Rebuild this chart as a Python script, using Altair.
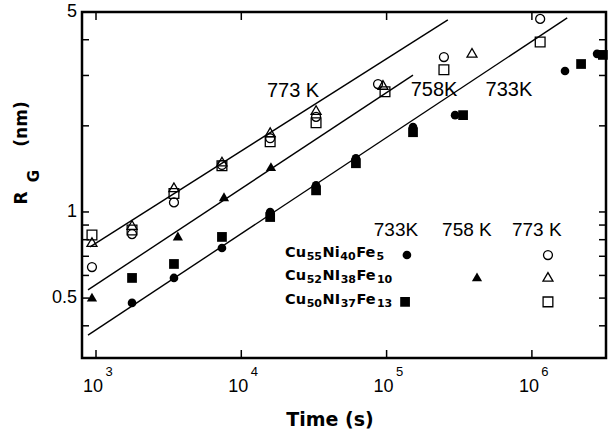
import altair as alt
import pandas as pd

# Annealing time t (s) and mean precipitate radius R_G (nm)
# Cu55Ni40Fe5 at 733 K (filled circles)
t_733_fe5 = [1770, 3440, 7360, 15800, 32700, 61500, 152000, 296000, 1690000, 2810000]
r_733_fe5 = [0.481, 0.588, 0.748, 1.00, 1.24, 1.54, 1.98, 2.18, 3.11, 3.57]
# Cu50Ni37Fe13 at 733 K (filled squares)
t_733_fe13 = [1770, 3440, 7360, 15800, 32700, 61500, 152000, 336000, 2180000, 3080000]
r_733_fe13 = [0.588, 0.658, 0.818, 0.96, 1.19, 1.48, 1.90, 2.18, 3.29, 3.54]
# Cu52Ni38Fe10 at 758 K (filled triangles)
t_758_fe10 = [938, 3660, 7600, 16000]
r_758_fe10 = [0.504, 0.824, 1.13, 1.44]
# 773 K series (open symbols)
t_773_fe5 = [938, 1770, 3440, 7360, 15800, 32700, 87300, 248000, 1140000]
r_773_fe5 = [0.642, 0.837, 1.08, 1.46, 1.81, 2.15, 2.80, 3.48, 4.73]
t_773_fe10 = [938, 1770, 3440, 7360, 15800, 32700, 94400, 387000]
r_773_fe10 = [0.785, 0.90, 1.22, 1.50, 1.90, 2.27, 2.78, 3.60]
t_773_fe13 = [938, 1770, 3440, 7360, 15800, 32700, 97500, 248000, 1140000]
r_773_fe13 = [0.831, 0.865, 1.16, 1.45, 1.76, 2.05, 2.63, 3.14, 3.93]

# t^(1/3) coarsening lines, one per temperature
fit_names = ["773 K", "758 K", "733 K"]
fit_t = [[910, 264000], [881, 152000], [881, 1750000]]
fit_r = [[0.755, 4.69], [0.534, 3.01], [0.371, 4.77]]

# Temperature labels beside the lines
line_label_text = ["773 K", "758K", "733K"]
line_label_t = [22700, 212000, 695000]
line_label_r = [2.65, 2.67, 2.67]

# Key: column headings, alloy names (element, subscript) and sample symbols
key_head_text = ["733K", "758 K", "773 K"]
key_head_t = [116000, 357000, 1080000]
key_head_r = [0.865, 0.865, 0.865]
key_alloys = [
    [("Cu", "55"), ("Ni", "40"), ("Fe", "5")],
    [("Cu", "52"), ("NI", "38"), ("Fe", "10")],
    [("Cu", "50"), ("NI", "37"), ("Fe", "13")],
]
key_name_t = 20000
key_rows_r = [0.719, 0.597, 0.492]
key_filled_t = [138000, 419000, 134000]
key_filled_r = [0.707, 0.593, 0.485]
key_open_t = [1290000, 1290000, 1290000]
key_open_r = [0.707, 0.593, 0.485]

# Axis ticks
x_major = [1e3, 1e4, 1e5, 1e6]
x_exp = ["3", "4", "5", "6"]
y_ticks = [0.4, 0.5, 0.6, 0.7, 0.8, 0.9, 1, 2, 3, 4]
y_label_v = [0.5, 1, 5]
y_label_s = ["0.5", "1", "5"]

W, H = 524, 346
X = alt.Scale(type="log", domain=[801, 3.236e6])
Y = alt.Scale(type="log", domain=[0.3087, 5.0])
NUM_FONT = "Liberation Sans"
KEY_FONT = "DejaVu Sans"
KEY_MAIN, KEY_SUB = 14.5, 11
# rough DejaVu Sans Bold advance widths (em)
ADV = {"C": .734, "u": .712, "N": .837, "i": .343, "I": .372,
       "F": .683, "e": .678}


def text_width(s, size):
    return sum(ADV.get(ch, .696) for ch in s) * size


def xy(xf="t", yf="r"):
    return dict(x=alt.X(f"{xf}:Q", scale=X, axis=None),
                y=alt.Y(f"{yf}:Q", scale=Y, axis=None))


def points(t, r, shape, filled, size):
    df = pd.DataFrame({"t": t, "r": r})
    return alt.Chart(df).mark_point(
        shape=shape, filled=filled, size=size, color="black",
        strokeWidth=1.3, opacity=1, clip=False
    ).encode(**xy())


# fitted lines
fit_rows = []
for name, ts, rs in zip(fit_names, fit_t, fit_r):
    for tv, rv in zip(ts, rs):
        fit_rows.append({"T": name, "t": tv, "r": rv})
lines = alt.Chart(pd.DataFrame(fit_rows)).mark_line(
    color="black", strokeWidth=1.4
).encode(detail="T:N", **xy())

marks = [
    points(t_733_fe5, r_733_fe5, "circle", True, 75),
    points(t_733_fe13, r_733_fe13, "square", True, 95),
    points(t_758_fe10, r_758_fe10, "triangle-up", True, 105),
    points(t_773_fe5, r_773_fe5, "circle", False, 80),
    points(t_773_fe10, r_773_fe10, "triangle-up", False, 100),
    points(t_773_fe13, r_773_fe13, "square", False, 95),
]

# key symbols
key_syms = [
    points(key_filled_t[:1], key_filled_r[:1], "circle", True, 75),
    points(key_filled_t[1:2], key_filled_r[1:2], "triangle-up", True, 105),
    points(key_filled_t[2:], key_filled_r[2:], "square", True, 95),
    points(key_open_t[:1], key_open_r[:1], "circle", False, 80),
    points(key_open_t[1:2], key_open_r[1:2], "triangle-up", False, 100),
    points(key_open_t[2:], key_open_r[2:], "square", False, 95),
]

line_labels = alt.Chart(pd.DataFrame({
    "t": line_label_t, "r": line_label_r, "s": line_label_text
})).mark_text(font=NUM_FONT, fontSize=20, color="black",
              align="center", baseline="middle").encode(text="s:N", **xy())

key_head = alt.Chart(pd.DataFrame({
    "t": key_head_t, "r": key_head_r, "s": key_head_text
})).mark_text(font=NUM_FONT, fontSize=19, color="black",
              align="center", baseline="middle").encode(text="s:N", **xy())

# alloy names: element symbols with lowered, smaller subscripts
key_text = []
for parts, rv in zip(key_alloys, key_rows_r):
    off = 0.0
    for elem, sub in parts:
        for s, size, dy in ((elem, KEY_MAIN, 0), (sub, KEY_SUB, 4)):
            df = pd.DataFrame({"t": [key_name_t], "r": [rv], "s": [s]})
            key_text.append(alt.Chart(df).mark_text(
                font=KEY_FONT, fontWeight="bold", fontSize=size,
                color="black", align="left", baseline="middle",
                dx=round(off, 1), dy=dy
            ).encode(text="s:N", **xy()))
            off += text_width(s, size) + 0.6

# inward ticks on all four sides
ydf = pd.DataFrame({"v": y_ticks})
xdf = pd.DataFrame({"v": x_major, "e": x_exp})
tick_style = dict(color="black", strokeWidth=1.5)
yl = alt.Chart(ydf).mark_rule(**tick_style).encode(
    y=alt.Y("v:Q", scale=Y, axis=None), x=alt.value(0), x2=alt.value(7))
yr = alt.Chart(ydf).mark_rule(**tick_style).encode(
    y=alt.Y("v:Q", scale=Y, axis=None), x=alt.value(W - 7), x2=alt.value(W))
xb = alt.Chart(xdf).mark_rule(**tick_style).encode(
    x=alt.X("v:Q", scale=X, axis=None), y=alt.value(H - 8), y2=alt.value(H))
xt = alt.Chart(xdf).mark_rule(**tick_style).encode(
    x=alt.X("v:Q", scale=X, axis=None), y=alt.value(0), y2=alt.value(8))

# y tick labels
y_lab = alt.Chart(pd.DataFrame({"v": y_label_v, "s": y_label_s})).mark_text(
    font=NUM_FONT, fontSize=18, color="black", align="right",
    baseline="middle"
).encode(y=alt.Y("v:Q", scale=Y, axis=None), x=alt.value(-5), text="s:N")

# x tick labels: 10 with a raised exponent
x_base = alt.Chart(xdf).mark_text(
    font=NUM_FONT, fontSize=18, color="black", align="center",
    baseline="middle", dx=-3
).encode(x=alt.X("v:Q", scale=X, axis=None), y=alt.value(H + 29),
         text=alt.value("10"))
x_pow = alt.Chart(xdf).mark_text(
    font=NUM_FONT, fontSize=13, color="black", align="center",
    baseline="middle", dx=13
).encode(x=alt.X("v:Q", scale=X, axis=None), y=alt.value(H + 14),
         text="e:N")

one = pd.DataFrame({"k": [0]})
x_title = alt.Chart(one).mark_text(
    text="Time (s)", font="DejaVu Sans", fontWeight="bold", fontSize=19,
    color="black", align="center", baseline="middle"
).encode(x=alt.value(248), y=alt.value(408))

title_style = dict(font="DejaVu Sans", fontWeight="bold", color="black",
                   align="center", baseline="middle", angle=270)
y_title_r = alt.Chart(one).mark_text(text="R", fontSize=17, **title_style
                                      ).encode(x=alt.value(-60), y=alt.value(186))
y_title_g = alt.Chart(one).mark_text(text="G", fontSize=15, **title_style
                                      ).encode(x=alt.value(-48), y=alt.value(164))
y_title_u = alt.Chart(one).mark_text(text="(nm)", fontSize=17, **title_style
                                      ).encode(x=alt.value(-60), y=alt.value(112))

chart = alt.layer(
    lines, *marks, *key_syms, line_labels, key_head, *key_text,
    yl, yr, xb, xt, y_lab, x_base, x_pow, x_title,
    y_title_r, y_title_g, y_title_u
).properties(
    width=W, height=H,
    autosize=alt.AutoSizeParams(type="none"),
    padding={"left": 82, "top": 12, "right": 2, "bottom": 72},
    background="white",
).configure_view(
    stroke="black", strokeWidth=2.5
)

chart.save("out.html", embed_options={"renderer": "svg", "actions": False})
